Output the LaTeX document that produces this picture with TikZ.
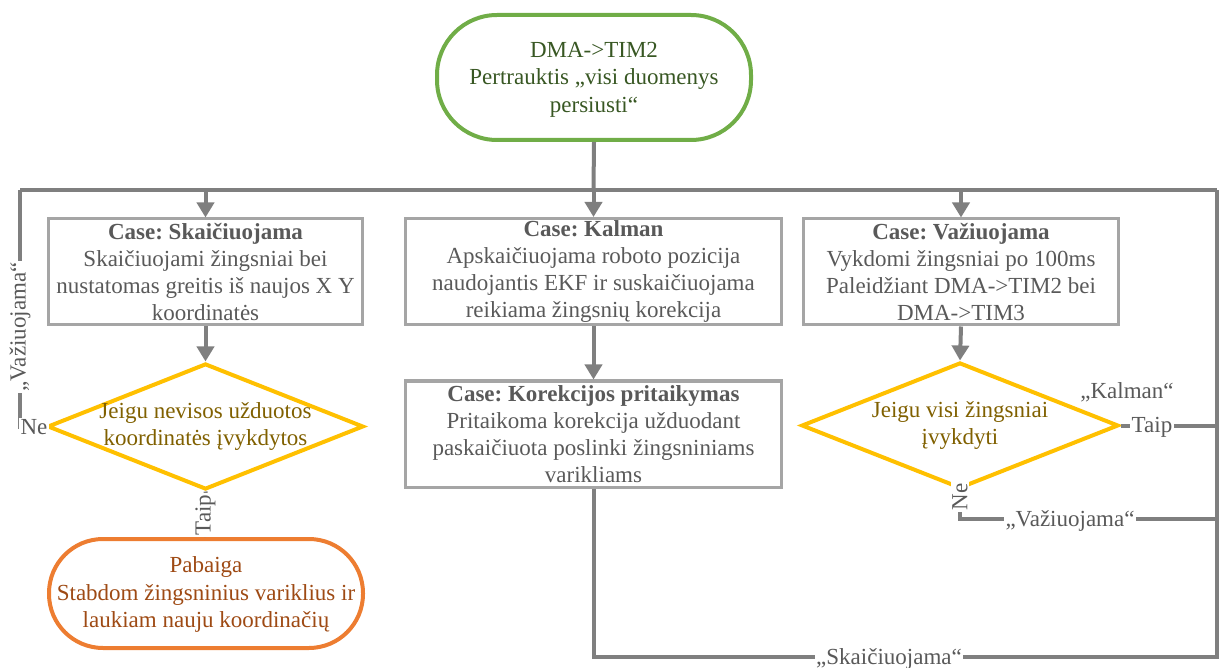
\documentclass[tikz,border=0pt]{standalone}
\usepackage{fontspec}
\setmainfont{Liberation Serif}
\usetikzlibrary{arrows.meta,shapes.geometric}
\definecolor{connline}{HTML}{7F7F7F}
\definecolor{boxline}{HTML}{A5A5A5}
\definecolor{boxtext}{HTML}{595959}
\definecolor{decline}{HTML}{FFC000}
\definecolor{dectext}{HTML}{806000}
\definecolor{startline}{HTML}{70AD47}
\definecolor{starttext}{HTML}{385723}
\definecolor{endline}{HTML}{ED7D31}
\definecolor{endtext}{HTML}{9E4A14}
\frenchspacing
\begin{document}
\begin{tikzpicture}[x=1pt,y=-1pt,
  every node/.style={font=\fontsize{23}{27.5}\selectfont, align=center, inner sep=0pt},
  boxfont/.style={font=\fontsize{23}{27}\selectfont},
  process/.style={rectangle, draw=boxline, line width=3pt, text=boxtext,
    minimum width=#1, minimum height=106pt},
  decision/.style={diamond, draw=decline, line width=4pt, minimum width=#1, minimum height=126pt},
  dectxt/.style={text=dectext},
  startterm/.style={rectangle, rounded corners=60pt, draw=startline, line width=4pt,
    minimum width=314pt, minimum height=125pt},
  endterm/.style={rectangle, rounded corners=54pt, draw=endline, line width=4pt,
    minimum width=314pt, minimum height=109pt},
  conn/.style={draw=connline, line width=4pt},
  arr/.style={conn, -{Triangle[width=17pt,length=15pt]}},
  lbl/.style={fill=white, text=boxtext, inner sep=1.5pt},
  plainlbl/.style={text=boxtext}
]
\useasboundingbox (0,0) rectangle (1224,668);

% blocks (frames first, their text centred slightly lower)
\node[startterm] (start) at (594,77.5) {};
\node[text=starttext] (startt) at ([yshift=-2pt]start.center) {DMA->TIM2\\Pertrauktis „visi duomenys\\persiusti“};
\node[process=314pt] (calc) at (205.5,272) {};
\node[text=boxtext, boxfont] (calct) at ([yshift=-0.5pt]calc.center) {\textbf{Case: Skaičiuojama}\\Skaičiuojami žingsniai bei\\nustatomas greitis iš naujos X Y\\koordinatės};
\node[process=376pt] (kalman) at (593.5,271.5) {};
\node[text=boxtext, boxfont] (kalmant) at ([yshift=-0.5pt]kalman.center) {\textbf{Case: Kalman}\\Apskaičiuojama roboto pozicija\\naudojantis EKF ir suskaičiuojama\\reikiama žingsnių korekcija};
\node[process=315pt] (drive) at (961,272) {};
\node[text=boxtext, boxfont] (drivet) at ([yshift=-0.5pt]drive.center) {\textbf{Case: Važiuojama}\\Vykdomi žingsniai po 100ms\\Paleidžiant DMA->TIM2 bei\\DMA->TIM3};
\node[process=376pt] (corr) at (593.5,434) {};
\node[text=boxtext, boxfont] (corrt) at ([yshift=-0.5pt]corr.center) {\textbf{Case: Korekcijos pritaikymas}\\Pritaikoma korekcija užduodant\\paskaičiuota poslinki žingsniniams\\varikliams};
\node[decision=316pt] (d1) at (205.5,426.5) {};
\node[dectxt] (d1t) at (d1.center) {Jeigu nevisos užduotos\\koordinatės įvykdytos};
\node[decision=317pt] (d2) at (960,425.5) {};
\node[dectxt] (d2t) at (d2.center) {Jeigu visi žingsniai\\įvykdyti};
\node[endterm] (stop) at (206,593.5) {};
\node[text=endtext] (stopt) at ([yshift=-1pt]stop.center) {Pabaiga\\Stabdom žingsninius variklius ir\\laukiam nauju koordinačių};

% bus and routing points
\coordinate (busL) at (20,190);
\coordinate (busR) at (1217,190);
\coordinate (jc) at (calc.north |- busL);
\coordinate (jk) at (kalman.north |- busL);
\coordinate (jd) at (drive.north |- busL);
\coordinate (lowR) at (1217,657);
\coordinate (neR) at (1217,519);

\draw[conn] (start.south) -- (jk);
\draw[conn] (busL) -- (busR);
\draw[arr] (jc) -- (calc.north);
\draw[arr] (jk) -- (kalman.north);
\draw[arr] (jd) -- (drive.north);

\draw[arr] (calc.south) -- (d1.north);
\draw[arr] (kalman.south) -- (corr.north);
\draw[arr] (drive.south) -- (d2.north);

\draw[conn] (d1.west) -- (d1.west -| busL) -- (busL);
\draw[conn] (d1.south) -- (stop.north);
\draw[conn] (d2.east) -- (d2.east -| busR);
\draw[conn] (d2.south) -- (d2.south |- neR) -- (neR);
\draw[conn] (corr.south) -- (corr.south |- lowR) -- (lowR) -- (busR);

% connector labels
\node[lbl, rotate=90] (lvaz) at (20,327) {„Važiuojama“};
\node[lbl] (lne) at (34,427) {Ne};
\node[lbl, rotate=90] (ltaip) at (205.5,515) {Taip};
\node[lbl] (rtaip) at (1152,427) {Taip};
\node[plainlbl] (rkal) at (1127,392) {„Kalman“};
\node[lbl, rotate=90] (rne) at (960,497) {Ne};
\node[lbl] (rvaz) at (1070,521) {„Važiuojama“};
\node[lbl] (bskai) at (889,659) {„Skaičiuojama“};
\end{tikzpicture}
\end{document}
